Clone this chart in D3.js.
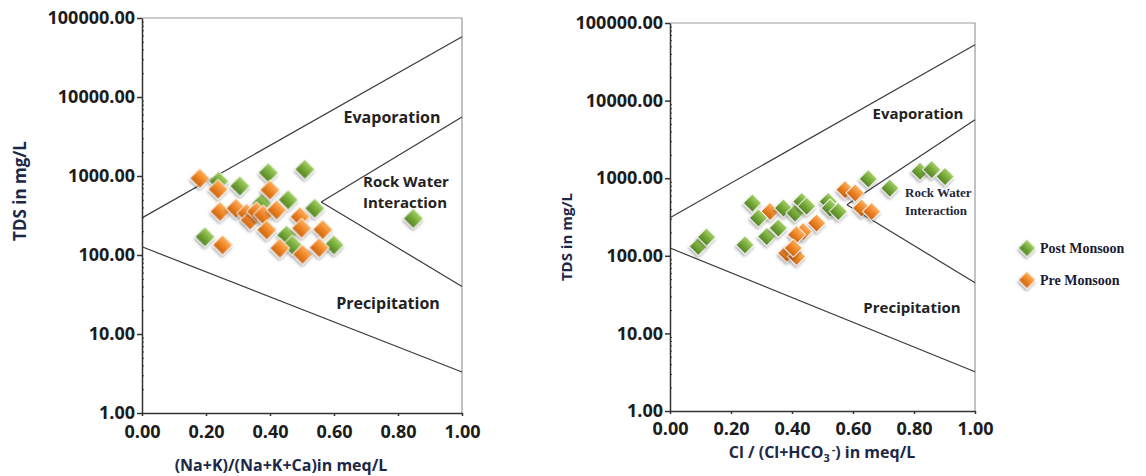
<!DOCTYPE html>
<html>
  <head>
    <meta charset="utf-8">
    <title>Gibbs diagrams</title>
    <style>
      body { margin: 0; background: #fff; }
      text { font-family: "Open Sans", "DejaVu Sans", sans-serif; }
    </style>
  </head>
  <body>
    <svg id="chart" width="1146" height="476"></svg>
    <script src="https://d3js.org/d3.v7.min.js"></script>
    <script>
      // tick values
      yTicks = [1, 10, 100, 1000, 10000, 100000]
      xTicks = [0, 0.2, 0.4, 0.6, 0.8, 1.0]

      // Gibbs plot 1: (Na+K)/(Na+K+Ca) vs TDS
      cationPost = [
        [0.197, 170], [0.306, 745], [0.395, 1100], [0.509, 1215], [0.457, 500],
        [0.54, 390], [0.848, 290], [0.60, 134], [0.452, 178], [0.47, 134],
        [0.24, 860], [0.374, 450]
      ]
      cationPre = [
        [0.181, 935], [0.238, 680], [0.244, 355], [0.252, 134], [0.294, 390],
        [0.327, 337], [0.338, 277], [0.358, 355], [0.379, 322], [0.40, 665],
        [0.421, 372], [0.39, 208], [0.431, 122], [0.494, 305], [0.499, 218],
        [0.502, 102], [0.565, 210], [0.554, 124]
      ]
      cationBounds = [
        [[0, 295], [1, 57800]],
        [[0, 127], [1, 3.3]],
        [[0.56, 470], [1, 5600]],
        [[0.56, 470], [1, 40]]
      ]

      // Gibbs plot 2: Cl/(Cl+HCO3) vs TDS
      anionPost = [
        [0.093, 132], [0.12, 174], [0.246, 138], [0.27, 478], [0.29, 308],
        [0.317, 177], [0.355, 228], [0.372, 412], [0.41, 355], [0.432, 500],
        [0.448, 435], [0.519, 500], [0.525, 412], [0.552, 372], [0.65, 980],
        [0.721, 745], [0.82, 1230], [0.858, 1290], [0.902, 1050]
      ]
      anionPre = [
        [0.574, 710], [0.607, 645], [0.628, 412], [0.661, 372], [0.481, 264],
        [0.437, 205], [0.415, 187], [0.383, 108], [0.415, 98], [0.404, 126],
        [0.328, 372]
      ]
      anionBounds = [
        [[0, 310], [1, 52600]],
        [[0, 126], [1, 3.2]],
        [[0.58, 455], [1, 5650]],
        [[0.58, 455], [1, 45]]
      ]

      legendNames = ['Post Monsoon', 'Pre Monsoon']

      const svg = d3.select('#chart')
      const defs = svg.append('defs')

      // bevelled look for the diamonds
      const colours = {
        post: ['#a6d267', '#76aa3a', '#548324'],
        pre: ['#fbb262', '#f08526', '#c9650f']
      }
      Object.entries(colours).forEach(([k, c]) => {
        const g = defs.append('linearGradient')
          .attr('id', 'grad-' + k)
          .attr('x1', 0).attr('y1', 0).attr('x2', 0).attr('y2', 1)
        g.append('stop').attr('offset', '0%').attr('stop-color', c[0])
        g.append('stop').attr('offset', '50%').attr('stop-color', c[1])
        g.append('stop').attr('offset', '100%').attr('stop-color', c[2])
      })
      defs.append('filter').attr('id', 'shadow')
        .attr('x', '-50%').attr('y', '-50%').attr('width', '200%').attr('height', '200%')
        .append('feDropShadow')
          .attr('dx', 1).attr('dy', 2).attr('stdDeviation', 1.5)
          .attr('flood-color', '#000').attr('flood-opacity', 0.35)

      function diamond(size) {
        return d3.symbol().type(d3.symbolSquare).size(size)()
      }

      function panel(cfg) {
        const x = d3.scaleLinear().domain([0, 1]).range([cfg.left, cfg.right])
        const y = d3.scaleLog().domain([1, 100000]).range([cfg.bottom, cfg.top])
        const g = svg.append('g')

        // frame
        g.append('path')
          .attr('d', `M${cfg.left},${cfg.top}H${cfg.right}V${cfg.bottom}`)
          .attr('fill', 'none').attr('stroke', '#9a9a9a').attr('stroke-width', 1.2)

        // minor log ticks
        const minor = []
        yTicks.slice(0, -1).forEach(t => d3.range(2, 10).forEach(m => minor.push(t * m)))
        g.append('g')
          .attr('transform', `translate(${cfg.left},0)`)
          .call(d3.axisLeft(y).tickValues(minor).tickSize(3).tickFormat(''))
          .call(a => a.select('.domain').remove())
          .call(a => a.selectAll('line').attr('stroke', '#444').attr('x2', 2))

        // y axis
        g.append('g')
          .attr('transform', `translate(${cfg.left},0)`)
          .call(d3.axisLeft(y).tickValues(yTicks).tickSize(5).tickPadding(2)
            .tickFormat(d3.format('.2f')).tickSizeOuter(0))
          .call(a => a.selectAll('text')
            .attr('font-size', 18).attr('font-weight', 700).attr('fill', '#1c1c1c')
            .style('font-family', '"Open Sans", sans-serif'))
          .call(a => a.selectAll('line, .domain').attr('stroke', '#333').attr('stroke-width', 1.5))

        // x axis
        g.append('g')
          .attr('transform', `translate(0,${cfg.bottom})`)
          .call(d3.axisBottom(x).tickValues(xTicks).tickSize(3).tickPadding(cfg.xPad)
            .tickFormat(d3.format('.2f')).tickSizeOuter(0))
          .call(a => a.selectAll('text')
            .attr('font-size', 18).attr('font-weight', 700).attr('fill', '#1c1c1c')
            .style('font-family', '"Open Sans", sans-serif'))
          .call(a => a.selectAll('line, .domain').attr('stroke', '#333').attr('stroke-width', 1.5))

        // boundary lines
        const line = d3.line().x(d => x(d[0])).y(d => y(d[1]))
        g.append('g').selectAll('path')
          .data(cfg.bounds)
          .join('path')
            .attr('d', line)
            .attr('fill', 'none').attr('stroke', '#3a3a3a').attr('stroke-width', 1.2)

        // points
        cfg.series.forEach(s => {
          g.append('g').selectAll('path')
            .data(s.data)
            .join('path')
              .attr('d', diamond(cfg.symbolSize))
              .attr('transform', d => `translate(${x(d[0])},${y(d[1])}) rotate(45)`)
              .attr('fill', `url(#grad-${s.key})`)
              .attr('stroke', '#fff').attr('stroke-width', 0.8)
              .attr('filter', 'url(#shadow)')
        })

        // region labels
        cfg.labels.forEach(l => {
          const t = g.append('text')
            .attr('x', l.x).attr('y', l.y)
            .attr('text-anchor', l.anchor || 'middle')
            .attr('font-size', l.size).attr('font-weight', 700)
            .attr('fill', l.fill || '#222')
          if (l.serif) t.style('font-family', '"Liberation Serif", serif')
          l.text.split('\n').forEach((line, i) => {
            t.append('tspan').attr('x', l.x).attr('dy', i ? l.gap : 0).text(line)
          })
        })

        // axis titles
        g.append('text')
          .attr('transform', `translate(${cfg.yTitle[0]},${cfg.yTitle[1]}) rotate(-90)`)
          .attr('text-anchor', 'middle').attr('dy', '0.35em')
          .attr('font-size', cfg.yTitleSize).attr('font-weight', 700).attr('fill', '#1d2846')
          .text('TDS in mg/L')
        const xt = g.append('text')
          .attr('x', cfg.xTitle[0]).attr('y', cfg.xTitle[1])
          .attr('text-anchor', 'middle')
          .attr('font-size', 16).attr('font-weight', 700).attr('fill', '#1d2846')
        cfg.xTitleParts.forEach(p => {
          const ts = xt.append('tspan').text(p.t)
          if (p.sub) ts.attr('font-size', 11).attr('dy', 4)
          if (p.sup) ts.attr('font-size', 11).attr('dy', -9)
          if (p.reset) ts.attr('dy', p.reset)
        })
      }

      panel({
        left: 142, right: 462, top: 18, bottom: 413, xPad: 9, symbolSize: 200,
        bounds: cationBounds,
        series: [{ key: 'post', data: cationPost }, { key: 'pre', data: cationPre }],
        labels: [
          { text: 'Evaporation', x: 392, y: 123, size: 16 },
          { text: 'Rock Water\nInteraction', x: 363, y: 187, size: 15, gap: 20.5, anchor: 'start' },
          { text: 'Precipitation', x: 388, y: 309, size: 16 }
        ],
        yTitle: [20, 191], yTitleSize: 17,
        xTitle: [281, 471],
        xTitleParts: [{ t: '(Na+K)/(Na+K+Ca)in meq/L' }]
      })

      panel({
        left: 670, right: 975, top: 23, bottom: 411, xPad: 8, symbolSize: 170,
        bounds: anionBounds,
        series: [{ key: 'pre', data: anionPre }, { key: 'post', data: anionPost }],
        labels: [
          { text: 'Evaporation', x: 918, y: 119, size: 15 },
          { text: 'Rock Water\nInteraction', x: 905, y: 197, size: 13, gap: 18, anchor: 'start',
            serif: true, fill: '#1e2740' },
          { text: 'Precipitation', x: 912, y: 313, size: 15 }
        ],
        yTitle: [567, 237], yTitleSize: 15,
        xTitle: [822, 458],
        xTitleParts: [
          { t: 'Cl / (Cl+HCO' }, { t: '3', sub: true }, { t: '\u2009-', sup: true },
          { t: ') in meq/L', reset: 5 }
        ]
      })

      // legend
      const legend = svg.append('g').attr('transform', 'translate(1027,248)')
      legend.selectAll('g')
        .data(legendNames)
        .join('g')
          .attr('transform', (d, i) => `translate(0,${i * 32})`)
          .each(function (d, i) {
            const item = d3.select(this)
            item.append('path')
              .attr('d', diamond(150))
              .attr('transform', 'rotate(45)')
              .attr('fill', `url(#grad-${i ? 'pre' : 'post'})`)
              .attr('stroke', '#fff').attr('stroke-width', 0.8)
              .attr('filter', 'url(#shadow)')
            item.append('text')
              .attr('x', 13).attr('y', 5)
              .attr('font-size', 14).attr('font-weight', 700).attr('fill', '#1a1a33')
              .style('font-family', '"Liberation Serif", serif')
              .text(d)
          })
    </script>
  </body>
</html>
